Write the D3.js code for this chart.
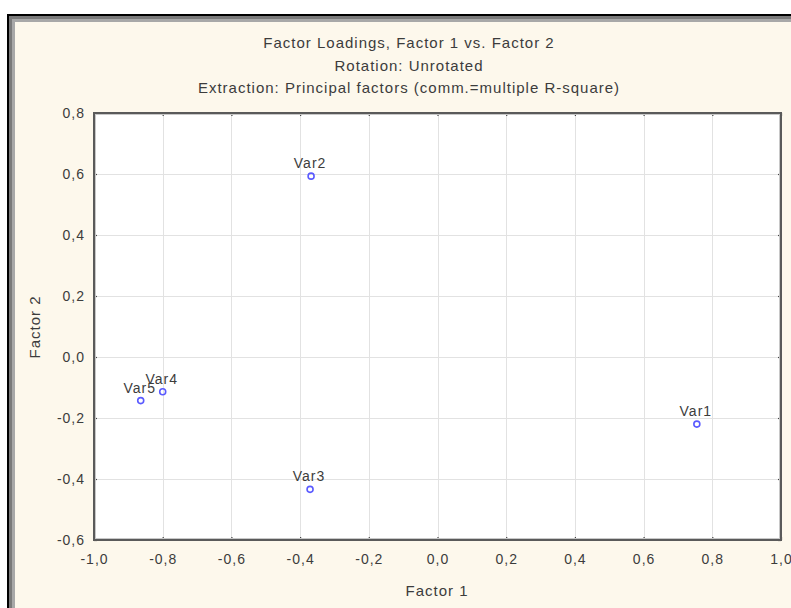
<!DOCTYPE html>
<html>
<head>
<meta charset="utf-8">
<script src="https://cdn.jsdelivr.net/npm/d3@7"></script>
<style>
  html, body { margin: 0; padding: 0; background: #ffffff; }
  svg { display: block; }
  text { font-family: "Liberation Sans", Arial, sans-serif; fill: #3c3c3c; }
</style>
</head>
<body>
<script>
// Factor loadings (unrotated) for five variables
const variables = ["Var1", "Var2", "Var3", "Var4", "Var5"];
const factor1 = [0.755, -0.368, -0.371, -0.800, -0.864];
const factor2 = [-0.220, 0.593, -0.434, -0.114, -0.143];

const xTicks = [-1.0, -0.8, -0.6, -0.4, -0.2, 0.0, 0.2, 0.4, 0.6, 0.8, 1.0];
const yTicks = [-0.6, -0.4, -0.2, 0.0, 0.2, 0.4, 0.6, 0.8];

const titleLines = [
  "Factor Loadings, Factor 1 vs. Factor 2",
  "Rotation: Unrotated",
  "Extraction: Principal factors (comm.=multiple R-square)"
];
const xTitle = "Factor 1";
const yTitle = "Factor 2";

const W = 791, H = 608;
const plot = { left: 94, top: 113, right: 781, bottom: 540 };

const svg = d3.select("body").append("svg")
  .attr("width", W).attr("height", H);

// window frame: black edge, grey bevel, cream panel
svg.append("rect").attr("x", 7).attr("y", 14).attr("width", W).attr("height", H)
  .attr("fill", "#000");
svg.append("rect").attr("x", 9).attr("y", 16).attr("width", W).attr("height", H)
  .attr("fill", "#7a7a7a");
svg.append("rect").attr("x", 12).attr("y", 19).attr("width", W).attr("height", H)
  .attr("fill", "#a8a8a8");
svg.append("rect").attr("x", 15).attr("y", 22).attr("width", W).attr("height", H)
  .attr("fill", "#fdf8ec");

const x = d3.scaleLinear().domain([-1, 1]).range([plot.left, plot.right]);
const y = d3.scaleLinear().domain([-0.6, 0.8]).range([plot.bottom, plot.top]);
const fmt = v => d3.format(".1f")(v).replace(".", ",").replace("−", "-");

// plot area
svg.append("rect")
  .attr("x", plot.left).attr("y", plot.top)
  .attr("width", plot.right - plot.left).attr("height", plot.bottom - plot.top)
  .attr("fill", "#ffffff");

// grid
const grid = svg.append("g").attr("stroke", "#e2e2e2").attr("stroke-width", 1);
grid.selectAll("line.gx").data(xTicks.slice(1, -1)).join("line")
  .attr("x1", d => Math.round(x(d)) + 0.5).attr("x2", d => Math.round(x(d)) + 0.5)
  .attr("y1", plot.top).attr("y2", plot.bottom);
grid.selectAll("line.gy").data(yTicks.slice(1, -1)).join("line")
  .attr("y1", d => Math.round(y(d)) + 0.5).attr("y2", d => Math.round(y(d)) + 0.5)
  .attr("x1", plot.left).attr("x2", plot.right);

// axes with inward ticks on all four sides
const tickLen = 3;
const axB = svg.append("g").attr("transform", `translate(0,${plot.bottom})`)
  .call(d3.axisBottom(x).tickValues(xTicks).tickSize(-tickLen).tickPadding(14).tickFormat(fmt));
const axT = svg.append("g").attr("transform", `translate(0,${plot.top})`)
  .call(d3.axisTop(x).tickValues(xTicks).tickSize(-tickLen).tickFormat(""));
const axL = svg.append("g").attr("transform", `translate(${plot.left},0)`)
  .call(d3.axisLeft(y).tickValues(yTicks).tickSize(-tickLen).tickPadding(9).tickFormat(fmt));
const axR = svg.append("g").attr("transform", `translate(${plot.right},0)`)
  .call(d3.axisRight(y).tickValues(yTicks).tickSize(-tickLen).tickFormat(""));
[axB, axT, axL, axR].forEach(g => {
  g.select(".domain").remove();
  g.selectAll(".tick line").attr("stroke", "#444").attr("stroke-width", 1.2);
  g.selectAll(".tick text").attr("font-size", 14).attr("fill", "#3c3c3c")
    .attr("letter-spacing", 1)
    .attr("font-family", "Liberation Sans, Arial, sans-serif");
});

// plot frame
svg.append("rect")
  .attr("x", plot.left).attr("y", plot.top)
  .attr("width", plot.right - plot.left).attr("height", plot.bottom - plot.top)
  .attr("fill", "none").attr("stroke", "#5a5a5a").attr("stroke-width", 2);
svg.append("rect")
  .attr("x", plot.left + 1.5).attr("y", plot.top + 1.5)
  .attr("width", plot.right - plot.left - 3).attr("height", plot.bottom - plot.top - 3)
  .attr("fill", "none").attr("stroke", "#c8c8c8").attr("stroke-width", 1);

// titles
svg.append("g").selectAll("text").data(titleLines).join("text")
  .attr("x", 409).attr("y", (d, i) => [48, 71, 93][i])
  .attr("text-anchor", "middle").attr("font-size", 15)
  .attr("letter-spacing", 1)
  .text(d => d);

svg.append("text").attr("x", 437).attr("y", 596)
  .attr("text-anchor", "middle").attr("font-size", 15).attr("letter-spacing", 1).text(xTitle);
svg.append("text")
  .attr("transform", `translate(40,327) rotate(-90)`)
  .attr("text-anchor", "middle").attr("font-size", 15).attr("letter-spacing", 1).text(yTitle);

// points and labels
const data = variables.map((v, i) => ({ name: v, f1: factor1[i], f2: factor2[i] }));
const pts = svg.append("g");
pts.selectAll("circle").data(data).join("circle")
  .attr("cx", d => x(d.f1)).attr("cy", d => y(d.f2)).attr("r", 3)
  .attr("fill", "none").attr("stroke", "#5a5aff").attr("stroke-width", 1.6);
pts.selectAll("text").data(data).join("text")
  .attr("x", d => x(d.f1) - 1).attr("y", d => y(d.f2) - 8)
  .attr("text-anchor", "middle").attr("font-size", 14).attr("letter-spacing", 1)
  .text(d => d.name);
</script>
</body>
</html>
